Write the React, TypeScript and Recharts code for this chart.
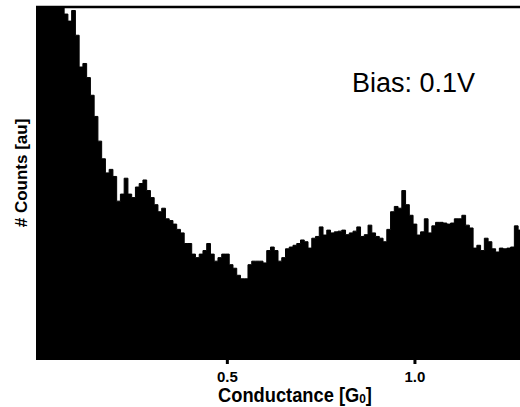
import { Area, AreaChart, ReferenceLine, XAxis, YAxis } from 'recharts';

const FONT = '"Liberation Sans", Arial, sans-serif';

// histogram bins: centre of first bin and bin width, in G0
const binStart = -0.01;
const binWidth = 0.01;

// counts per bin (arbitrary units, 100 = top of the frame)
const countsRise = [
  100, 100, 100, 100, 100, 100, 100, 100, 98, 96,
  99, 92, 83, 84, 80, 75, 69, 62, 57, 53,
  54, 52, 45, 47, 51.5, 47, 46, 49, 50, 51,
];
const countsValley = [
  48, 46, 44, 42, 43, 40, 39.5, 38.5, 37, 36,
  33, 33, 30, 29, 30, 31, 33, 30, 28, 29,
  30, 30, 27, 26, 24, 23, 23, 27, 28, 28,
  28, 27.5, 31, 32, 31, 28, 29, 31.5, 32, 32.5,
];
const countsTail = [
  33, 34, 33.5, 31.7, 34.5, 35, 37.7, 35.4, 36.8, 36,
  36.3, 36.5, 36.8, 35.5, 36, 36.5, 37.7, 35, 35.5, 38.2,
  36, 35, 34.5, 33.5, 37, 42, 43.5, 43, 48, 44,
  41, 38.5, 35.4, 36.3, 40, 36, 38, 39, 39, 38.8,
  38.5, 38.8, 40, 40, 41, 38.2, 37.4, 31.7, 32.5, 31,
  34.5, 33.5, 31.5, 30.6, 31.7, 31.5, 31.7, 32, 38, 36.8,
];

const xTicks = [0.5, 1.0];
const xDomain: [number, number] = [-0.01, 1.28];

const counts = [...countsRise, ...countsValley, ...countsTail];
const data = counts.map((c, i) => ({ g: +(binStart + i * binWidth).toFixed(3), count: c }));

// tick label plus the short black tick mark just under the histogram
function XTick(props: any) {
  const { x, y, payload } = props;
  return (
    <g>
      <rect x={x - 1.5} y={y - 11} width={3} height={4} fill="#000" />
      <text
        x={x}
        y={y}
        dy="0.71em"
        textAnchor="middle"
        fontFamily={FONT}
        fontWeight="bold"
        fontSize={15}
        fill="#000"
      >
        {Number(payload.value).toFixed(1)}
      </text>
    </g>
  );
}

function XTitle(props: any) {
  const vb = props.viewBox || {};
  const cx = vb.x + vb.width / 2 + 17;
  return (
    <text
      transform={`translate(${cx}, 402) scale(0.915, 1)`}
      textAnchor="middle"
      fontFamily={FONT}
      fontWeight="bold"
      fontSize={20}
      fill="#000"
    >
      Conductance [G<tspan fontSize={13} dy={1}>0</tspan>
      <tspan dy={-1}>]</tspan>
    </text>
  );
}

function YTitle() {
  return (
    <text
      transform="translate(27, 173) rotate(-90)"
      textAnchor="middle"
      fontFamily={FONT}
      fontWeight="bold"
      fontSize={17}
      fill="#000"
    >
      # Counts [au]
    </text>
  );
}

export default function App() {
  return (
    <div style={{ position: 'absolute', left: 0, top: 0, width: 520, height: 407, background: '#fff' }}>
      <AreaChart width={520} height={407} data={data} margin={{ top: 7, right: 0, bottom: 0, left: 36 }}>
        <XAxis
          dataKey="g"
          type="number"
          domain={xDomain}
          allowDataOverflow
          ticks={xTicks}
          height={47}
          axisLine={false}
          tickLine={false}
          tickSize={4}
          tickMargin={7}
          tick={<XTick />}
          label={<XTitle />}
        />
        <YAxis
          width={0}
          domain={[0, 100]}
          allowDataOverflow
          tick={false}
          tickLine={false}
          axisLine={{ stroke: '#000', strokeWidth: 1 }}
        />
        <Area
          type="step"
          dataKey="count"
          fill="#000"
          fillOpacity={1}
          stroke="#000"
          strokeWidth={1}
          dot={false}
          activeDot={false}
          isAnimationActive={false}
        />
        <ReferenceLine y={100} stroke="#000" strokeWidth={2.5} />
      </AreaChart>
      <svg width={40} height={407} style={{ position: 'absolute', left: 0, top: 0 }}>
        <YTitle />
      </svg>
      <div
        style={{
          position: 'absolute',
          left: 352,
          top: 70,
          whiteSpace: 'nowrap',
          fontFamily: FONT,
          fontSize: 27,
          lineHeight: '27px',
          color: '#000',
        }}
      >
        Bias: 0.1V
      </div>
    </div>
  );
}
